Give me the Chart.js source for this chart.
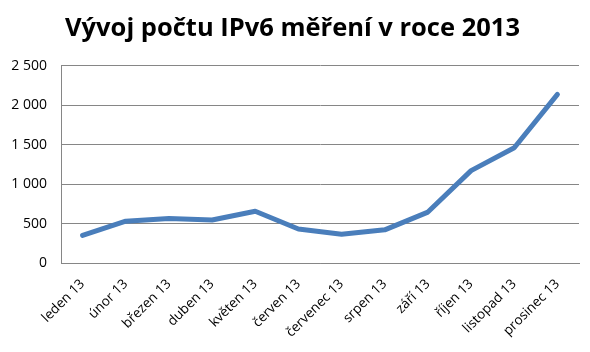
<!DOCTYPE html>
<html>
<head>
<meta charset="utf-8">
<script src="https://cdn.jsdelivr.net/npm/chart.js@4/dist/chart.umd.min.js"></script>
<style>
  html, body { margin: 0; padding: 0; background: #fff; }
  #wrap { width: 590px; height: 352px; }
</style>
</head>
<body>
<div id="wrap"><canvas id="chart" width="590" height="352"></canvas></div>
<script>
const months = ['leden 13', 'únor 13', 'březen 13', 'duben 13', 'květen 13', 'červen 13',
                'červenec 13', 'srpen 13', 'září 13', 'říjen 13', 'listopad 13', 'prosinec 13'];
const counts = [350, 530, 565, 545, 655, 430, 365, 420, 645, 1170, 1460, 2135];
const yTicks = [0, 500, 1000, 1500, 2000, 2500];

const gridColor = '#868686';
const lineColor = '#4a7ebb';

// "2 500" style numbers, like the Czech locale
function spaced(v) {
    return String(v).replace(/\B(?=(\d{3})+(?!\d))/g, ' ');
}

const ctx = document.getElementById('chart').getContext('2d');
new Chart(ctx, {
    type: 'line',
    data: {
        labels: months,
        datasets: [{
            data: counts,
            borderColor: lineColor,
            borderWidth: 5,
            borderCapStyle: 'round',
            borderJoinStyle: 'round',
            tension: 0,
            pointRadius: 0,
            fill: false
        }]
    },
    options: {
        responsive: false,
        animation: false,
        layout: { padding: { left: 6, right: 11, top: 10, bottom: 0 } },
        plugins: {
            legend: { display: false },
            tooltip: { enabled: false },
            title: {
                display: true,
                text: 'Vývoj počtu IPv6 měření v roce 2013',
                color: '#000',
                font: { family: 'Open Sans', size: 25.5, weight: 'bold' },
                padding: { top: 3, bottom: 22 }
            }
        },
        scales: {
            x: {
                offset: true,
                grid: { display: false, drawTicks: false },
                border: { display: true, color: gridColor, width: 1 },
                ticks: {
                    color: '#000',
                    font: { family: 'Open Sans', size: 13.5 },
                    minRotation: 45,
                    maxRotation: 45,
                    autoSkip: false,
                    padding: 13
                },
                afterFit: s => { s.height = 89; }
            },
            y: {
                min: 0,
                max: 2500,
                afterBuildTicks: s => { s.ticks = yTicks.map(v => ({ value: v })); },
                grid: { color: gridColor, drawTicks: false },
                border: { display: true, color: gridColor, width: 1 },
                ticks: {
                    color: '#000',
                    font: { family: 'Open Sans', size: 14 },
                    padding: 14,
                    callback: v => spaced(v)
                },
                afterFit: s => { s.width = 55; }
            }
        }
    }
});
</script>
</body>
</html>
